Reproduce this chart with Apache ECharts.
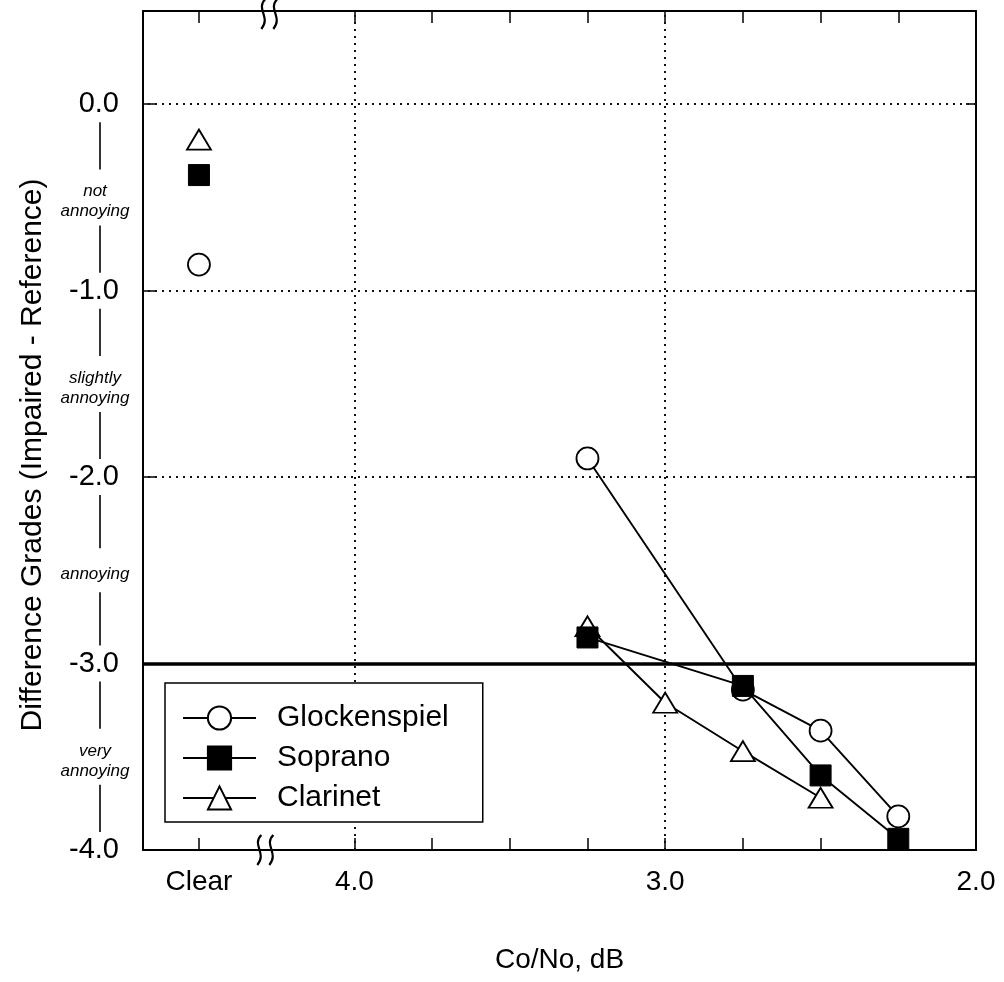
<!DOCTYPE html>
<html>
<head>
<meta charset="utf-8">
<script src="https://cdn.jsdelivr.net/npm/echarts@6/dist/echarts.min.js"></script>
<style>html,body{margin:0;padding:0;background:#fff}#chart{width:1004px;height:982px}</style>
</head>
<body>
<div id="chart"></div>
<script>
var FONT = '"Liberation Sans", Arial, sans-serif';

// x positions (Co/No, dB); "Clear" is drawn at 4.5
var CLEAR = 4.5;
var xTicks = [4.5, 4.0, 3.75, 3.5, 3.25, 3.0, 2.75, 2.5, 2.25, 2.0];
var xLabels = [4.5, 4.0, 3.0, 2.0];
var yTicks = [-4, -3, -2, -1, 0];
var cnr = [3.25, 2.75, 2.5, 2.25];
var cnrClarinet = [3.25, 3.0, 2.75, 2.5];

// difference grades
var glock = [-1.90, -3.14, -3.36, -3.82];
var soprano = [-2.86, -3.12, -3.60, -3.94];
var clarinet = [-2.80, -3.21, -3.47, -3.72];
var clearGlock = [-0.86];
var clearSoprano = [-0.38];
var clearClarinet = [-0.19];

var gradeLines = [0, -1, -2];
var threshold = -3;
var cnrLines = [4.0, 3.0];
var bands = [['not', 'annoying'], ['slightly', 'annoying'], ['annoying'], ['very', 'annoying']];
var breakAt = 4.28;

function zip(xs, ys) {
  return xs.map(function (x, i) { return [x, ys[i]]; });
}

var dotted = { color: '#111', width: 2, type: [2, 5] };
var openMark = { color: '#fff', borderColor: '#000', borderWidth: 1.8, opacity: 1 };
var fillMark = { color: '#000', borderColor: '#000', borderWidth: 1, opacity: 1 };
var blackLine = { color: '#000', width: 1.9 };

var chart = echarts.init(document.getElementById('chart'));

var marks = [];
gradeLines.forEach(function (v) { marks.push({ yAxis: v, lineStyle: dotted }); });
cnrLines.forEach(function (v) { marks.push({ xAxis: v, lineStyle: dotted }); });
marks.push({ yAxis: threshold, lineStyle: { color: '#000', width: 3.5, type: 'solid' } });

function xAxisOf(pos, withLabels) {
  return {
    type: 'value', inverse: true, min: 2, max: 4.68, position: pos,
    axisLine: { onZero: false, lineStyle: { color: '#000', width: 2 } },
    axisTick: { inside: true, length: 12, customValues: xTicks, lineStyle: { color: '#000', width: 1.5 } },
    axisLabel: {
      show: withLabels, customValues: xLabels, margin: 18,
      fontFamily: FONT, fontSize: 28, color: '#000',
      formatter: function (v) { return v === CLEAR ? 'Clear' : v.toFixed(1); }
    },
    splitLine: { show: false }
  };
}

function yAxisOf(pos, withLabels, tickLen) {
  return {
    type: 'value', min: -4, max: 0.5, position: pos,
    axisLine: { show: true, onZero: false, lineStyle: { color: '#000', width: 2 } },
    axisTick: { show: true, inside: true, length: tickLen, customValues: yTicks, lineStyle: { color: '#000', width: 1.5 } },
    axisLabel: {
      show: withLabels, customValues: yTicks,
      margin: 24, fontFamily: FONT, fontSize: 29, color: '#000',
      formatter: function (v) { return v.toFixed(1); }
    },
    splitLine: { show: false }
  };
}

var xBottom = xAxisOf('bottom', true);
xBottom.name = 'Co/No, dB';
xBottom.nameLocation = 'middle';
xBottom.nameGap = 96;
xBottom.nameTextStyle = { fontFamily: FONT, fontSize: 28, color: '#000' };

var option = {
  animation: false,
  backgroundColor: '#fff',
  grid: { left: 143, right: 28, top: 11, bottom: 132 },
  legend: {
    data: ['Glockenspiel', 'Soprano', 'Clarinet'],
    orient: 'vertical',
    left: 165, top: 683,
    padding: [20, 34, 9, 17],
    itemWidth: 73, itemHeight: 29, itemGap: 10,
    borderColor: '#000', borderWidth: 1.5,
    backgroundColor: '#fff',
    textStyle: { fontFamily: FONT, fontSize: 30, color: '#000', padding: [0, 0, 0, 16] }
  },
  xAxis: [xBottom, xAxisOf('top', false)],
  yAxis: [yAxisOf('left', true, 14), yAxisOf('right', false, 10)],
  series: [{
    name: 'Glockenspiel', type: 'line', data: zip(cnr, glock),
    symbol: 'circle', symbolSize: 22, z: 4,
    lineStyle: blackLine, itemStyle: openMark,
    markLine: { silent: true, symbol: 'none', label: { show: false }, data: marks, z: 1 }
  }, {
    name: 'Soprano', type: 'line', data: zip(cnr, soprano),
    symbol: 'rect', symbolSize: 21, z: 6,
    lineStyle: blackLine, itemStyle: fillMark
  }, {
    name: 'Clarinet', type: 'line', data: zip(cnrClarinet, clarinet),
    symbol: 'triangle', symbolSize: [24, 20], z: 5,
    lineStyle: blackLine, itemStyle: openMark
  }, {
    name: 'Glockenspiel clear', type: 'scatter', data: zip([CLEAR], clearGlock),
    symbol: 'circle', symbolSize: 22, itemStyle: openMark
  }, {
    name: 'Soprano clear', type: 'scatter', data: zip([CLEAR], clearSoprano),
    symbol: 'rect', symbolSize: 21, itemStyle: fillMark
  }, {
    name: 'Clarinet clear', type: 'scatter', data: zip([CLEAR], clearClarinet),
    symbol: 'triangle', symbolSize: [24, 20], itemStyle: openMark
  }]
};

chart.setOption(option);

// rating words and the vertical strokes in the left margin
var g = [];
var lx = 100;
for (var i = 0; i < bands.length; i++) {
  var yHi = chart.convertToPixel({ yAxisIndex: 0 }, -i);
  var yMid = chart.convertToPixel({ yAxisIndex: 0 }, -i - 0.5);
  var yLo = chart.convertToPixel({ yAxisIndex: 0 }, -i - 1);
  var half = bands[i].length > 1 ? 28 : 22;
  g.push({ type: 'line', shape: { x1: lx, y1: yHi + 18, x2: lx, y2: yMid - half }, style: { stroke: '#000', lineWidth: 1.6 } });
  g.push({ type: 'line', shape: { x1: lx, y1: yMid + half, x2: lx, y2: yLo - 18 }, style: { stroke: '#000', lineWidth: 1.6 } });
  g.push({
    type: 'text', x: lx - 5, y: yMid + 4,
    style: {
      text: bands[i].join('\n'), fontFamily: FONT, fontSize: 17, fontStyle: 'italic',
      lineHeight: 20, fill: '#000', align: 'center', verticalAlign: 'middle'
    }
  });
}

// rotated y-axis title
g.push({
  type: 'text', x: 33, y: 455, rotation: Math.PI / 2,
  style: {
    text: 'Difference Grades (Impaired - Reference)', fontFamily: FONT, fontSize: 30,
    fill: '#000', align: 'center', verticalAlign: 'middle'
  }
});

// axis break marks
var bx = chart.convertToPixel({ xAxisIndex: 0 }, breakAt);
function breakMark(x, y0) {
  return {
    type: 'bezierCurve',
    shape: { x1: x + 2, y1: y0, cpx1: x - 8, cpy1: y0 + 10, cpx2: x + 8, cpy2: y0 + 18, x2: x - 2, y2: y0 + 30 },
    style: { stroke: '#000', lineWidth: 2.2, fill: null }
  };
}
var yBottom = chart.convertToPixel({ yAxisIndex: 0 }, -4);
var yTop = chart.convertToPixel({ yAxisIndex: 0 }, 0.5);
g.push(breakMark(bx - 8, yBottom - 15), breakMark(bx + 4, yBottom - 15));
g.push(breakMark(bx - 4, yTop - 12), breakMark(bx + 8, yTop - 12));

chart.setOption({ graphic: g });
</script>
</body>
</html>
